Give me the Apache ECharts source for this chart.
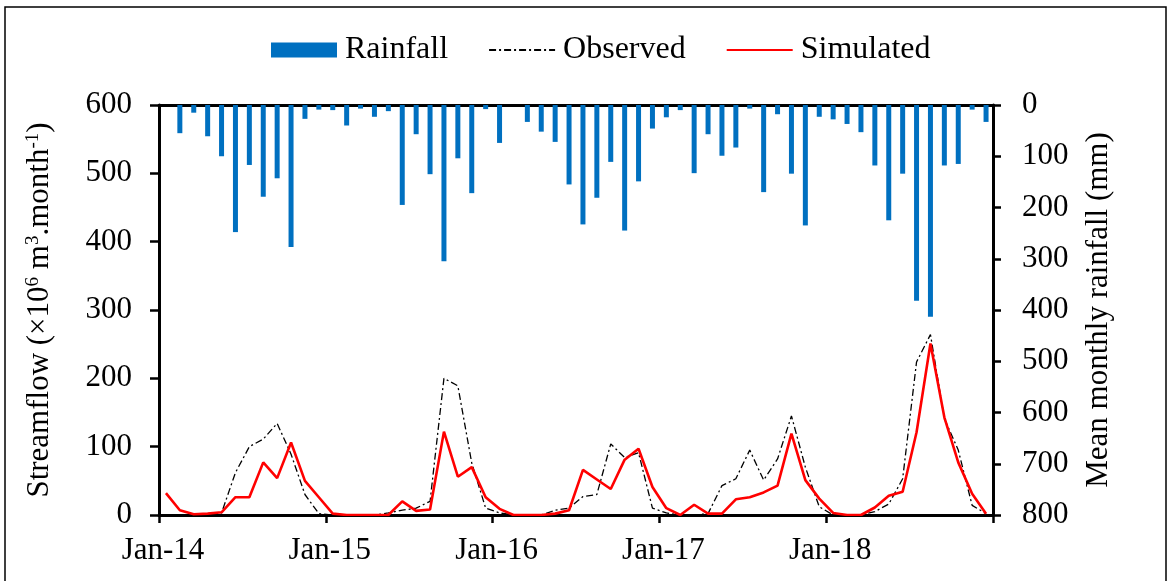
<!DOCTYPE html>
<html>
<head>
<meta charset="utf-8">
<script src="https://cdn.jsdelivr.net/npm/echarts@6/dist/echarts.min.js"></script>
<style>
html,body{margin:0;padding:0;background:#fff;}
#chart{width:1174px;height:581px;}
</style>
</head>
<body>
<div id="chart"></div>
<script>
// Monthly data, Jan-2014 .. Dec-2018 (60 months)
const yearLabels = ['Jan-14', 'Jan-15', 'Jan-16', 'Jan-17', 'Jan-18', ''];
const rainfall = [
  0, 55, 15, 61, 100, 248, 117, 179, 143, 277, 27, 9,
  10, 40, 7, 23, 12, 195, 57, 135, 305, 104, 172, 8,
  74, 0, 33, 52, 72, 155, 233, 181, 111, 245, 149, 46,
  24, 10, 133, 57, 99, 83, 7, 170, 18, 134, 235, 23,
  28, 37, 53, 118, 225, 134, 382, 413, 118, 115, 9, 33
];
const observed = [
  0, 0, 0, 0, 3, 62, 100, 111, 134, 89, 30, 2,
  0, 0, 0, 0, 3, 7, 10, 20, 200, 189, 76, 10,
  3, 0, 0, 0, 7, 10, 27, 30, 104, 84, 91, 10,
  3, 0, 0, 2, 43, 53, 95, 51, 82, 145, 70, 12,
  0, 0, 0, 5, 16, 53, 224, 264, 141, 95, 14, 2
];
const simulated = [
  32, 7, 1, 2, 4, 26, 26, 77, 54, 106, 50, 26,
  2, 0, 0, 0, 0, 20, 6, 8, 122, 56, 70, 26,
  9, 0, 0, 0, 2, 7, 66, 52, 38, 81, 97, 41,
  10, 0, 15, 2, 2, 23, 26, 33, 43, 119, 51, 24,
  3, 0, 0, 11, 28, 34, 121, 251, 143, 77, 31, 2
];

const toXY = arr => arr.map((v, i) => [i + 0.5, v]);
const FONT = 'Liberation Serif';
const FS = 31;

const chart = echarts.init(document.getElementById('chart'), null, {renderer: 'canvas'});
chart.setOption({
  backgroundColor: '#fff',
  animation: false,
  textStyle: {fontFamily: FONT, color: '#000'},
  graphic: [{
    type: 'rect',
    shape: {x: 5, y: 7, width: 1161, height: 640},
    style: {fill: 'none', stroke: '#000', lineWidth: 1.5},
    silent: true
  }],
  legend: {
    top: 29,
    left: 266,
    itemWidth: 66,
    itemHeight: 15,
    itemGap: 40,
    textStyle: {fontFamily: FONT, fontSize: 32, color: '#000', padding: [0, 0, 0, 3]},
    data: [
      {name: 'Rainfall', icon: 'rect'},
      {name: 'Observed', itemStyle: {opacity: 0}},
      {name: 'Simulated', itemStyle: {opacity: 0}}
    ]
  },
  grid: {left: 159, right: 181, top: 105, bottom: 66},
  xAxis: [{
    type: 'value', min: 0, max: 60, interval: 12, position: 'bottom',
    axisLine: {show: true, onZero: false, lineStyle: {color: '#000', width: 3}},
    axisTick: {show: true, inside: false, length: 8, lineStyle: {color: '#000', width: 2.5}},
    axisLabel: {
      fontFamily: FONT, fontSize: FS, color: '#000', margin: 20,
      padding: [0, 0, 0, 8],
      formatter: v => yearLabels[Math.round(v / 12)]
    },
    splitLine: {show: false}
  }, {
    type: 'value', min: 0, max: 60, position: 'top',
    axisLine: {show: true, onZero: false, lineStyle: {color: '#000', width: 3}},
    axisTick: {show: false}, axisLabel: {show: false}, splitLine: {show: false}
  }],
  yAxis: [{
    type: 'value', min: 0, max: 600, interval: 100, position: 'left',
    axisLine: {show: true, onZero: false, lineStyle: {color: '#000', width: 3}},
    axisTick: {show: true, length: 9, lineStyle: {color: '#000', width: 2.5}},
    axisLabel: {fontFamily: FONT, fontSize: FS, color: '#000', margin: 27},
    splitLine: {show: false},
    name: 'Streamflow (×10{sup|6} m{sup|3}.month{sup|-1})',
    nameLocation: 'middle',
    nameGap: 104,
    nameTextStyle: {
      fontFamily: FONT, fontSize: FS, color: '#000',
      rich: {sup: {fontFamily: FONT, fontSize: 19, color: '#000', verticalAlign: 'top', padding: [0, 0, 12, 0]}}
    }
  }, {
    type: 'value', min: 0, max: 800, interval: 100, position: 'right', inverse: true,
    axisLine: {show: true, onZero: false, lineStyle: {color: '#000', width: 3}},
    axisTick: {show: true, length: 8, lineStyle: {color: '#000', width: 2.5}},
    axisLabel: {fontFamily: FONT, fontSize: FS, color: '#000', margin: 29},
    splitLine: {show: false},
    name: 'Mean monthly rainfall (mm)',
    nameLocation: 'middle',
    nameRotate: 90,
    nameGap: 90,
    nameTextStyle: {fontFamily: FONT, fontSize: FS, color: '#000'}
  }],
  series: [{
    name: 'Rainfall', type: 'bar', xAxisIndex: 0, yAxisIndex: 1,
    barWidth: 5, itemStyle: {color: '#0070C0'},
    data: toXY(rainfall)
  }, {
    name: 'Observed', type: 'line', xAxisIndex: 0, yAxisIndex: 0,
    symbol: 'none', itemStyle: {color: '#000'},
    lineStyle: {color: '#000', width: 1.3, type: [7, 3, 2, 3]},
    data: toXY(observed)
  }, {
    name: 'Simulated', type: 'line', xAxisIndex: 0, yAxisIndex: 0,
    symbol: 'none', itemStyle: {color: '#FF0000'},
    lineStyle: {color: '#FF0000', width: 2.6},
    data: toXY(simulated)
  }]
});
</script>
</body>
</html>
